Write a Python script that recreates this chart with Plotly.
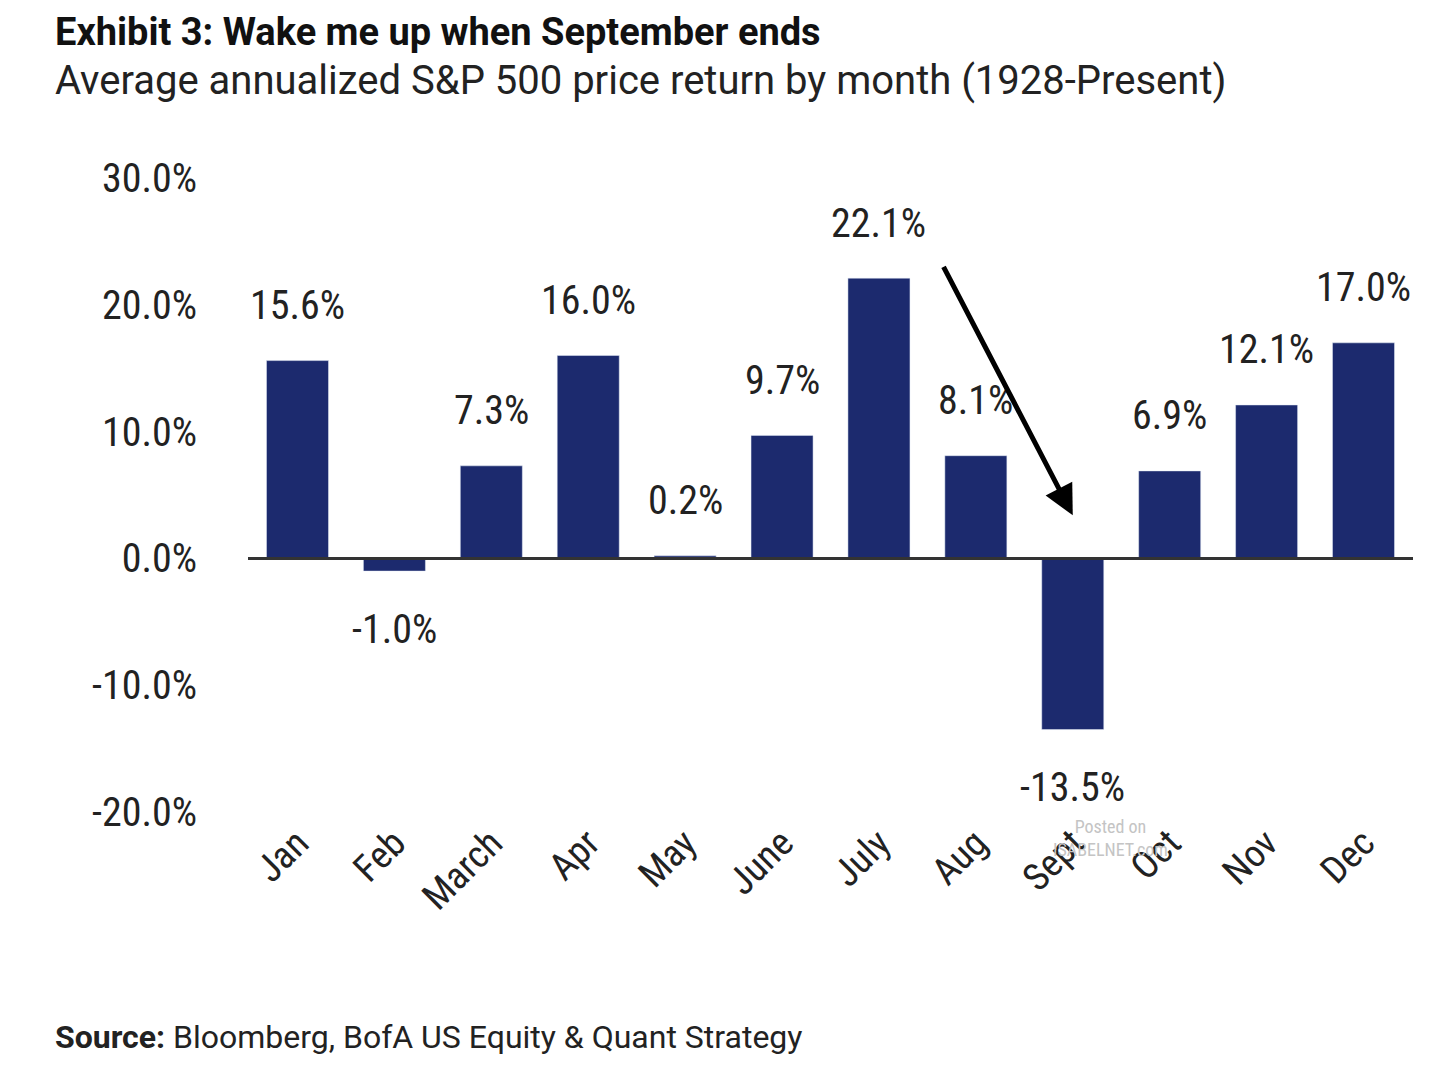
import plotly.graph_objects as go

months = ["Jan","Feb","March","Apr","May","June","July","Aug","Sept","Oct","Nov","Dec"]
returns = [15.6, -1.0, 7.3, 16.0, 0.2, 9.7, 22.1, 8.1, -13.5, 6.9, 12.1, 17.0]
labels = ["15.6%","-1.0%","7.3%","16.0%","0.2%","9.7%","22.1%","8.1%","-13.5%","6.9%","12.1%","17.0%"]
yticks = [-20, -10, 0, 10, 20, 30]
yticklabels = ["-20.0%","-10.0%","0.0%","10.0%","20.0%","30.0%"]

FONT = "Liberation Sans Narrow, Roboto Condensed, Arial Narrow, Liberation Sans, sans-serif"
TFONT = "Roboto, Liberation Sans, sans-serif"
NAVY = "#1c2a6e"
TX = -0.167

fig = go.Figure(go.Bar(x=months, y=returns, marker_color=NAVY, width=0.64))

for m, v, t in zip(months, returns, labels):
    fig.add_annotation(x=m, y=v, text=t, showarrow=False, yshift=(55 if v >= 0 else -58),
                       font=dict(size=40, color="#222", family=FONT))

fig.add_annotation(x="Sept", y=3.4, ax=-130, ay=-250, showarrow=True, arrowhead=2,
                   arrowsize=1.2, arrowwidth=5, arrowcolor="black", text="")

fig.add_annotation(xref="paper", yref="paper", x=TX, y=1.0, xanchor="left", yanchor="bottom",
                   text="<b>Exhibit 3: Wake me up when September ends</b>", showarrow=False,
                   font=dict(size=38, color="#111", family=TFONT), yshift=122)
fig.add_annotation(xref="paper", yref="paper", x=TX, y=1.0, xanchor="left", yanchor="bottom",
                   text="Average annualized S&P 500 price return by month (1928-Present)", showarrow=False,
                   font=dict(size=40, color="#222", family=TFONT), yshift=72)
fig.add_annotation(xref="paper", yref="paper", x=TX, y=0, xanchor="left", yanchor="top",
                   text="<b>Source:</b> Bloomberg, BofA US Equity & Quant Strategy", showarrow=False,
                   font=dict(size=32, color="#222", family=TFONT), yshift=-204)
fig.add_annotation(xref="paper", yref="paper", x=0.74, y=0, xanchor="center", yanchor="top",
                   text="Posted on<br>ISABELNET.com", showarrow=False,
                   font=dict(size=18, color="#c4c4c4", family=FONT), yshift=-2)

fig.add_shape(type="line", xref="paper", yref="y", x0=0, x1=1, y0=0, y1=0, line=dict(color="#333", width=3))

fig.update_layout(
    width=1435, height=1074, paper_bgcolor="white", plot_bgcolor="white",
    margin=dict(l=240, r=30, t=170, b=270), showlegend=False,
    font=dict(family=FONT, color="#222"),
    yaxis=dict(range=[-20, 30], tickvals=yticks, ticktext=yticklabels, showgrid=False,
               zeroline=False, tickfont=dict(size=40), ticks="", ticklen=0, showline=False,
               ticklabelstandoff=50),
    xaxis=dict(tickangle=-45, tickfont=dict(size=38), showgrid=False, showline=False, ticks=""),
)
fig.write_html("out.html")
